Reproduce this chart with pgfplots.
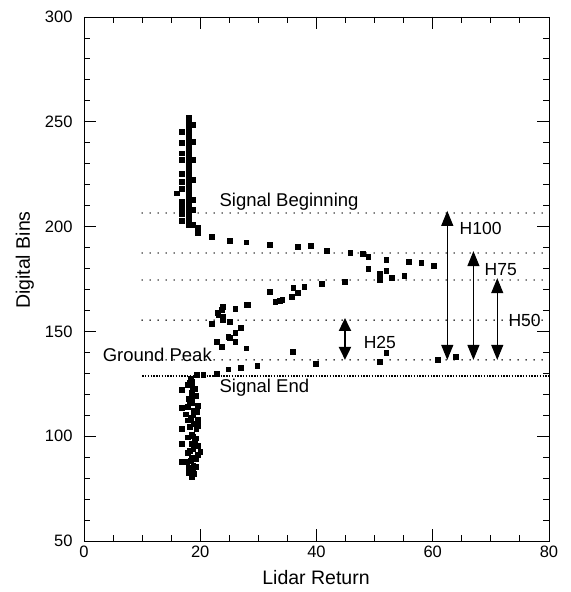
\documentclass[border=0pt]{standalone}
\usepackage{fontspec}
\setmainfont{Liberation Sans}
\usepackage{pgfplots}
\pgfplotsset{compat=1.18}
\usetikzlibrary{arrows.meta}
\begin{document}
\begin{tikzpicture}
\begin{axis}[
 width=465pt,height=524pt, scale only axis,
 xmin=0,xmax=80,ymin=50,ymax=300,
 xtick={0,20,...,80}, ytick={50,100,...,300},
 minor xtick={5,10,...,75}, minor ytick={60,70,...,290},
 tick align=inside, major tick length=12pt, minor tick length=6pt,
 tick style={black, line width=0.9pt},
 axis line style={line width=0.9pt},
 ticklabel style={font=\fontsize{16.5}{19}\selectfont},
 xticklabel style={yshift=-1pt},
 yticklabel style={xshift=-8pt},
 /pgf/number format/assume math mode=true,
 xlabel={Lidar Return}, ylabel={Digital Bins},
 label style={font=\fontsize{19.5}{22}\selectfont},
 xlabel style={at={(axis description cs:0.499,-0.0706)}, anchor=center},
 ylabel style={at={(axis description cs:-0.127,0.536)}, anchor=center},
 clip=false,
]
% reference lines
\addplot[black, line width=1.6pt, line cap=round, dash pattern=on 0pt off 8pt] coordinates {(10,206.5) (80,206.5)};
\addplot[black, line width=1.6pt, line cap=round, dash pattern=on 0pt off 8pt] coordinates {(10,187.4) (80,187.4)};
\addplot[black, line width=1.6pt, line cap=round, dash pattern=on 0pt off 8pt] coordinates {(10,174.5) (80,174.5)};
\addplot[black, line width=1.6pt, line cap=round, dash pattern=on 0pt off 8pt] coordinates {(10,155.4) (80,155.4)};
\addplot[black, line width=1.6pt, line cap=round, dash pattern=on 0pt off 8pt] coordinates {(10,136.4) (80,136.4)};
\addplot[black, line width=1.4pt, dash pattern=on 1.4pt off 1.4pt] coordinates {(10,128.7) (80,128.7)};
% data
\addplot[only marks, mark=square*, mark size=2.4pt, black] coordinates {
(18,252)(18,250.5)(18,249)(18,247.5)(18,246)(18,244.5)(18,243)(18,241.5)(18,240)(18,238.5)
(18,237)(18,235.5)(18,234)(18,232.5)(18,231)(18,229.5)(18,228)(18,226.5)(18,225)(18,223.5)
(18,222)(18,220.5)(18,219)(18,217.5)(18,216)(18,214.5)(18,213)(18,211.5)(18,210)(18,208.5)
(18,207)(18,205.5)(18,204)(18,202.5)(18,201)
(18.8,248.5)(16.8,245.3)(16.8,240)(18.8,240.5)(16.8,235)(16.8,231.8)(18.8,231.8)(16.8,225.4)
(18.8,222.2)(16.8,221.5)(16,215.9)(16.8,218)(18.8,212.7)(16.8,212)(16.8,209)(16.8,206)(16.8,203)
(18.8,207.9)(18.8,200.8)(19.6,199.3)(19.6,197)
(22,195)(25,193.1)(27.9,192.6)(32,191.2)(36.8,190.4)(39,190.7)(41.8,188.5)(45.8,187.4)(48,186.9)
(48.9,185.5)(52,184.1)(55.9,183.1)(58,182.6)(60.1,181.2)(48.9,179.8)(50.9,177.4)(52,178.8)
(53,175.5)(55.1,176.4)(50.9,174.5)(44.9,173.6)(40.9,172.9)(37.9,171.3)(36.8,168.5)(36,170.7)
(35.7,166.6)(34.1,165)(33.7,164.5)(32.9,164.2)(32,168.9)(28.1,162.6)(27.9,162.6)(26,160.7)
(23.9,161.6)(23.7,160.2)(22.9,158.8)(23.1,157.8)(23.9,156.9)(23.9,155.4)(25.1,154.5)(22,153.5)
(26.9,151.6)(26,149.4)(24.8,147.5)(25.1,146.9)(26,145)(22.8,145)(23.7,142.7)(27.9,142)
(35.9,140.3)(52,139.7)(50.9,135.4)(39.9,134.5)(60.8,136.4)(63.9,137.8)
(29.8,133.5)(26.9,132.7)(24.8,132)(22.8,130)(20.5,129.5)(19.4,129.2)
(18.5,126)(17.9,124.4)(16.8,122)(18.5,120.6)(18.5,118.5)(18.5,116)(17.9,114)(16.8,113.5)
(18.8,112)(18.8,110)(17.9,107.6)(19.6,107.7)(18.8,106)(16.8,103.4)(18.5,101)(19.2,99)
(18.5,96.6)(16.8,96.6)(18.8,94)(20,92.5)(18.5,90)(17.7,87.8)(16.8,87.8)(18.8,86.2)
(18.3,83.6)(18.8,83.6)(18.5,80.7)(18.2,125.5)(19,122.5)(18,118)(19.5,114.5)(17.5,110.5)
(19.3,103.5)(17.8,99.5)(19,97.8)(17.8,92)(19.2,89)(18,85)
(18.3,127.5)(18.6,123)(19.3,119.5)(18.2,117)(19.4,111.5)(18.3,108.8)(19.6,105)(18.2,104.5)
(18.8,100)(19.5,95.5)(18.2,93)(19.6,91)(18.4,88.5)(19.3,85.5)(18.9,82)(18,82.5)
};
% arrows
\draw[black, line width=1.1pt, {Triangle[width=12pt,length=15pt]}-{Triangle[width=12pt,length=15pt]}] (axis cs:62.5,136.4) -- (axis cs:62.5,207.5);
\draw[black, line width=1.1pt, {Triangle[width=12pt,length=15pt]}-{Triangle[width=12pt,length=15pt]}] (axis cs:67,136.4) -- (axis cs:67,188.3);
\draw[black, line width=1.1pt, {Triangle[width=12pt,length=15pt]}-{Triangle[width=12pt,length=15pt]}] (axis cs:71.1,136.4) -- (axis cs:71.1,175.4);
\draw[black, line width=2pt, {Triangle[width=12pt,length=13pt]}-{Triangle[width=12pt,length=13pt]}] (axis cs:44.9,136.4) -- (axis cs:44.9,156.4);
% annotations
\begin{scope}[every node/.style={font=\fontsize{18.5}{21}\selectfont, anchor=west, inner sep=0pt}]
\node at (axis cs:23.3,211.7) {Signal Beginning};
\node at (axis cs:3.2,138.9) {Ground Peak};
\node at (axis cs:23.3,123.3) {Signal End};
\end{scope}
\begin{scope}[every node/.style={font=\fontsize{17.5}{20}\selectfont, anchor=west, inner sep=0pt}]
\node at (axis cs:64.6,199.3) {H100};
\node at (axis cs:68.9,179.3) {H75};
\node at (axis cs:73.0,155.4) {H50};
\node at (axis cs:48.1,144.5) {H25};
\end{scope}
\end{axis}
\pgfresetboundingbox
\useasboundingbox ([xshift=-84pt,yshift=-51pt]current axis.south west) rectangle ([xshift=22pt,yshift=17pt]current axis.north east);
\end{tikzpicture}
\end{document}
